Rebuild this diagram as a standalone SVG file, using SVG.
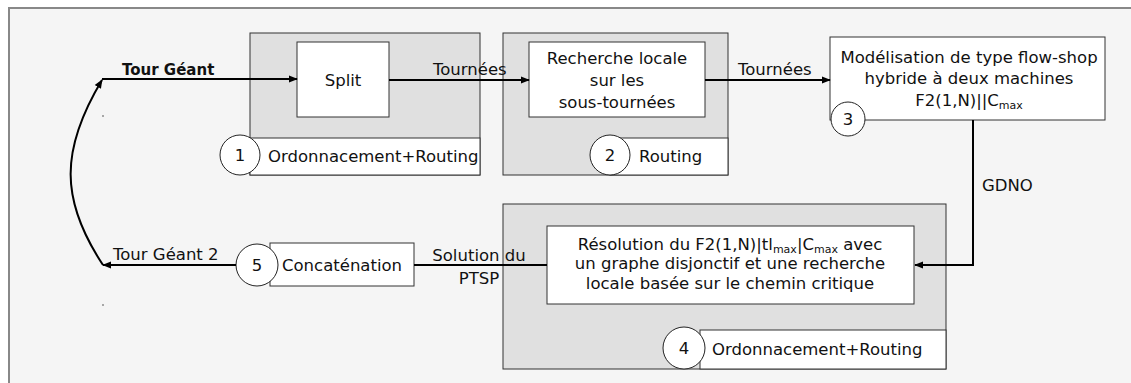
<svg xmlns="http://www.w3.org/2000/svg" width="1131" height="383" viewBox="0 0 1131 383">
<defs>
<marker id="ah" viewBox="0 0 10 10" refX="9" refY="5" markerWidth="9" markerHeight="9" markerUnits="userSpaceOnUse" orient="auto">
<path d="M0,1 L10,5 L0,9 Z" fill="#000"/>
</marker>
</defs>
<style>
text{font-family:"DejaVu Sans","Verdana",sans-serif;font-size:16.5px;fill:#111}
.c{text-anchor:middle}
.b{font-weight:bold;font-size:15px}
.sub{font-size:11px}
.gray{fill:#e0e0e0;stroke:#333;stroke-width:1}
.wbox{fill:#fff;stroke:#333;stroke-width:1}
.circ{fill:#fff;stroke:#222;stroke-width:1}
.con{fill:none;stroke:#000;stroke-width:2}
</style>
<rect x="0" y="0" width="1131" height="383" fill="#fff"/>
<rect x="9" y="8" width="1140" height="400" fill="#f5f5f5" stroke="#888" stroke-width="2"/>

<g id="box1">
<rect class="gray" x="250" y="33" width="230" height="142"/>
<rect class="wbox" x="250" y="138" width="230" height="37"/>
<rect class="wbox" x="297" y="42" width="92" height="75"/>
<text class="c" x="343" y="86">Split</text>
<circle class="circ" cx="240" cy="155" r="20"/>
<text class="c" x="240" y="161">1</text>
<text x="268" y="162">Ordonnacement+Routing</text>
</g>

<g id="box2">
<rect class="gray" x="503" y="33" width="225" height="142"/>
<rect class="wbox" x="610" y="138" width="118" height="37"/>
<rect class="wbox" x="529" y="42" width="176" height="75"/>
<text class="c" x="617" y="64">Recherche locale</text>
<text class="c" x="617" y="86">sur les</text>
<text class="c" x="617" y="108">sous-tournées</text>
<circle class="circ" cx="610" cy="155" r="20"/>
<text class="c" x="610" y="161">2</text>
<text x="639" y="162">Routing</text>
</g>

<g id="box3">
<rect class="wbox" x="830" y="37" width="275" height="83"/>
<text class="c" x="969" y="63">Modélisation de type flow-shop</text>
<text class="c" x="969" y="84">hybride à deux machines</text>
<text class="c" x="969" y="106">F2(1,N)||C<tspan class="sub" dy="3">max</tspan></text>
<circle class="circ" cx="848" cy="119" r="17"/>
<text class="c" x="848" y="125">3</text>
</g>

<g id="box4">
<rect class="gray" x="503" y="204" width="443" height="165"/>
<rect class="wbox" x="700" y="330" width="246" height="39"/>
<rect class="wbox" x="547" y="226" width="367" height="78"/>
<text class="c" x="730" y="250">Résolution du F2(1,N)|tl<tspan class="sub" dy="3">max</tspan><tspan dy="-3">|C</tspan><tspan class="sub" dy="3">max</tspan><tspan dy="-3"> avec</tspan></text>
<text class="c" x="730" y="269">un graphe disjonctif et une recherche</text>
<text class="c" x="730" y="289">locale basée sur le chemin critique</text>
<circle class="circ" cx="684" cy="348" r="21"/>
<text class="c" x="684" y="354">4</text>
<text x="712" y="355">Ordonnacement+Routing</text>
</g>

<g id="box5">
<rect class="wbox" x="270" y="243" width="144" height="43"/>
<text x="282" y="271">Concaténation</text>
<circle class="circ" cx="257" cy="265" r="21"/>
<text class="c" x="257" y="271">5</text>
</g>

<g id="connectors">
<path class="con" d="M102,79 L297,79" marker-end="url(#ah)"/>
<path class="con" d="M389,80 L529,80" marker-end="url(#ah)"/>
<path class="con" d="M705,80 L830,80" marker-end="url(#ah)"/>
<path class="con" d="M973,120 L973,265 L915,265" marker-end="url(#ah)"/>
<path class="con" d="M547,265 L414,265"/>
<path class="con" d="M236,265 L103,265" marker-end="url(#ah)"/>
<path class="con" d="M103,265 C60,200 60,150 102,80" marker-end="url(#ah)"/>
<circle cx="103" cy="116" r="0.8" fill="#444"/>
<circle cx="103" cy="305" r="0.8" fill="#444"/>
</g>

<g id="labels">
<text class="b" x="122" y="75">Tour Géant</text>
<text x="433" y="75">Tournées</text>
<text x="738" y="75">Tournées</text>
<text x="982" y="191">GDNO</text>
<text class="c" x="479" y="261">Solution du</text>
<text class="c" x="479" y="284">PTSP</text>
<text x="113" y="260">Tour Géant 2</text>
</g>
</svg>
